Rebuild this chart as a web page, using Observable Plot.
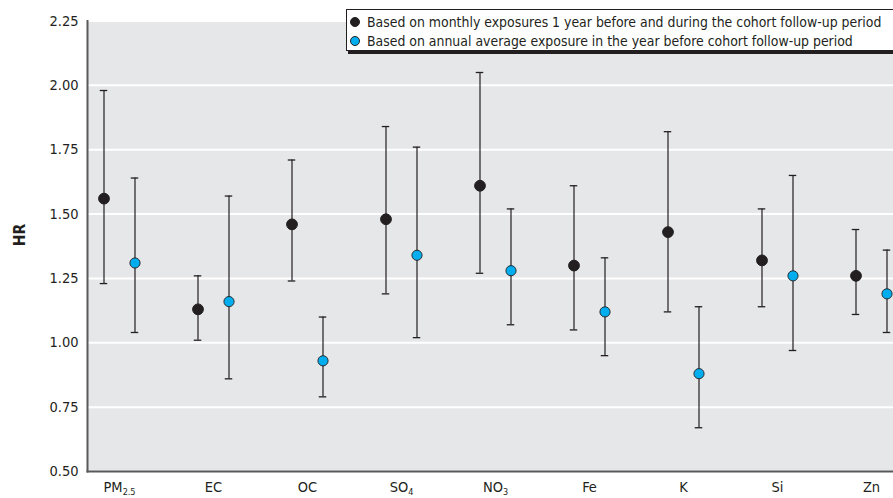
<!DOCTYPE html>
<html>
<head>
<meta charset="utf-8">
<script src="https://cdn.jsdelivr.net/npm/d3@7"></script>
<script src="https://cdn.jsdelivr.net/npm/@observablehq/plot@0.6"></script>
<style>
  body { margin: 0; background: #fff; overflow: hidden; }
  #wrap { position: relative; width: 893px; height: 498px; overflow: hidden;
          font-family: "Liberation Sans Narrow", "DejaVu Sans Condensed", "Roboto", "Liberation Sans", sans-serif; color: #231f20; }
  #legend { position: absolute; left: 346px; top: 9px; width: 570px; height: 42px; background: #fff;
            border: 1px solid #231f20; box-shadow: 2px 3px 0 #231f20; box-sizing: border-box; }
  .row { position: absolute; left: 0; height: 18px; line-height: 18px; font-size: 13.9px; white-space: nowrap; }
  .sw { position: absolute; left: 3px; top: 4px; width: 10px; height: 10px; border-radius: 50%; box-sizing: border-box; }
  .lbl { position: absolute; left: 20px; top: 0; }
</style>
</head>
<body>
<div id="wrap"></div>
<script>
// ---- data ----
const categories = ["PM2.5", "EC", "OC", "SO4", "NO3", "Fe", "K", "Si", "Zn"];
const labelBase  = ["PM", "EC", "OC", "SO", "NO", "Fe", "K", "Si", "Zn"];
const labelSub   = ["2.5", "", "", "4", "3", "", "", "", ""];

// Based on monthly exposures (black)
const monthlyHR = [1.56, 1.13, 1.46, 1.48, 1.61, 1.30, 1.43, 1.32, 1.26];
const monthlyLo = [1.23, 1.01, 1.24, 1.19, 1.27, 1.05, 1.12, 1.14, 1.11];
const monthlyHi = [1.98, 1.26, 1.71, 1.84, 2.05, 1.61, 1.82, 1.52, 1.44];

// Based on annual average exposure (blue)
const annualHR = [1.31, 1.16, 0.93, 1.34, 1.28, 1.12, 0.88, 1.26, 1.19];
const annualLo = [1.04, 0.86, 0.79, 1.02, 1.07, 0.95, 0.67, 0.97, 1.04];
const annualHi = [1.64, 1.57, 1.10, 1.76, 1.52, 1.33, 1.14, 1.65, 1.36];

const yTicks = [0.50, 0.75, 1.00, 1.25, 1.50, 1.75, 2.00, 2.25];
const seriesNames = [
  "Based on monthly exposures 1 year before and during the cohort follow-up period",
  "Based on annual average exposure in the year before cohort follow-up period"
];
const yLabel = "HR";

// ---- build ----
const monthly = categories.map((c, i) => ({cat: c, hr: monthlyHR[i], lo: monthlyLo[i], hi: monthlyHi[i]}));
const annual  = categories.map((c, i) => ({cat: c, hr: annualHR[i], lo: annualLo[i], hi: annualHi[i]}));

const INK = "#231f20", BLUE = "#00aeef", OFF = 15.5;
const BAND = 94.125, CAPHALF = 3.8, CAPINSET = BAND / 2 - CAPHALF;
const FONT = "'Liberation Sans Narrow', 'DejaVu Sans Condensed', Roboto, 'Liberation Sans', sans-serif";

function series(data, dx, fill, stroke, sw, r) {
  const cap = {x: "cat", dx, insetLeft: CAPINSET, insetRight: CAPINSET, stroke: INK, strokeWidth: 1.3};
  return [
    Plot.ruleX(data, {x: "cat", y1: "lo", y2: "hi", dx, stroke: INK, strokeWidth: 1.2}),
    Plot.tickY(data, {...cap, y: "lo"}),
    Plot.tickY(data, {...cap, y: "hi"}),
    Plot.dot(data, {x: "cat", y: "hr", dx, r, fill, stroke, strokeWidth: sw})
  ];
}

const chart = Plot.plot({
  width: 893, height: 498,
  marginTop: 20.5, marginBottom: 27, marginLeft: 87, marginRight: 0,
  style: {fontFamily: FONT, fontSize: "14.5px", color: INK, background: "transparent"},
  x: {type: "band", domain: categories, range: [118.5 - BAND / 2, 118.5 + BAND * 8.5], padding: 0},
  y: {domain: [0.5, 2.25]},
  marks: [
    Plot.frame({fill: "#e6e7e8", stroke: "none"}),
    Plot.gridY(yTicks, {stroke: "#fff", strokeOpacity: 1, strokeWidth: 2}),
    Plot.frame({anchor: "left", stroke: "#58595b", strokeWidth: 2}),
    Plot.frame({anchor: "bottom", stroke: "#58595b", strokeWidth: 2}),
    Plot.axisY(yTicks, {tickSize: 0, tickPadding: 9, tickFormat: d3.format(".2f"), label: null}),
    Plot.axisX({tickSize: 0, tickPadding: 10, label: null}),
    Plot.text([yLabel], {frameAnchor: "left", dx: -67, rotate: -90, fontWeight: "bold", fontSize: 15.5}),
    ...series(monthly, -OFF, INK, INK, 1, 5.4),
    ...series(annual, OFF, BLUE, INK, 0.9, 5.1)
  ]
});

// subscripts in x tick labels
chart.querySelectorAll('g[aria-label="x-axis tick label"] text').forEach(t => {
  const i = categories.indexOf(t.textContent);
  if (i < 0 || !labelSub[i]) return;
  t.textContent = "";
  const ns = "http://www.w3.org/2000/svg";
  const a = document.createElementNS(ns, "tspan"); a.textContent = labelBase[i];
  const b = document.createElementNS(ns, "tspan"); b.textContent = labelSub[i];
  b.setAttribute("font-size", "9px"); b.setAttribute("dy", "3");
  t.appendChild(a); t.appendChild(b);
});

const wrap = document.getElementById("wrap");
wrap.appendChild(chart);

// legend
const legend = document.createElement("div");
legend.id = "legend";
[[INK, INK], [BLUE, INK]].forEach(([f, s], k) => {
  const row = document.createElement("div");
  row.className = "row";
  row.style.top = (k === 0 ? 3 : 21.5) + "px";
  const sw = document.createElement("span");
  sw.className = "sw";
  sw.style.background = f;
  sw.style.border = "1px solid " + s;
  const lb = document.createElement("span");
  lb.className = "lbl";
  lb.textContent = seriesNames[k];
  row.appendChild(sw); row.appendChild(lb);
  legend.appendChild(row);
});
wrap.appendChild(legend);
</script>
</body>
</html>
